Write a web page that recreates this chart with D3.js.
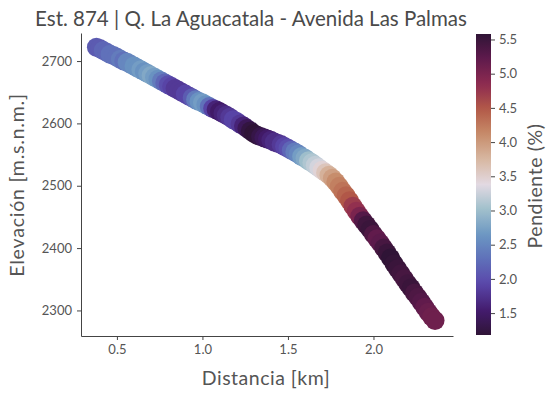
<!DOCTYPE html>
<html>
<head>
<meta charset="utf-8">
<script src="https://cdn.jsdelivr.net/npm/d3@7"></script>
<style>
	body { margin:0; background:#fff; }
	svg text { font-family: Lato, "Open Sans", sans-serif; }
</style>
</head>
<body>
<div id="idChart"></div>
<script>
// distance along the stream [km]
var aDistancia=[0.38,0.40,0.42,0.44,0.46,0.48,0.50,0.52,0.54,0.56,0.58,0.60,0.62,0.64,0.66,0.68,0.70,0.72,0.74,0.76,
	0.78,0.80,0.82,0.84,0.86,0.88,0.90,0.92,0.94,0.96,0.98,1.00,1.02,1.04,1.06,1.08,1.10,1.12,1.14,1.16,
	1.18,1.20,1.22,1.24,1.26,1.28,1.30,1.32,1.34,1.36,1.38,1.40,1.42,1.44,1.46,1.48,1.50,1.52,1.54,1.56,
	1.58,1.60,1.62,1.64,1.66,1.68,1.70,1.72,1.74,1.76,1.78,1.80,1.82,1.84,1.86,1.88,1.90,1.92,1.94,1.96,
	1.98,2.00,2.02,2.04,2.06,2.08,2.10,2.12,2.14,2.16,2.18,2.20,2.22,2.24,2.26,2.28,2.30,2.32,2.34,2.36];
// elevation [m.s.n.m.]
var aElevacion=[2722,2720,2717,2714,2711,2709,2706,2703,2700,2698,2695,2692,2689,2686,2683,2680,2677,2674,2671,2668,
	2665,2662,2659,2656,2653,2650,2647,2644,2641,2638,2635,2633,2630,2627,2624,2622,2619,2616,2613,2610,
	2606,2603,2599,2596,2592,2588,2584,2581,2579,2577,2575,2573,2570,2568,2566,2563,2560,2557,2554,2551,
	2547,2544,2540,2537,2533,2529,2525,2521,2517,2512,2506,2499,2491,2484,2476,2467,2459,2451,2444,2437,
	2430,2422,2415,2408,2400,2392,2384,2375,2367,2359,2351,2343,2336,2328,2321,2313,2305,2297,2290,2284];
// slope [%]
var aPendiente=[2.1,2.1,2.2,2.2,2.3,2.3,2.3,2.4,2.3,2.5,2.5,2.6,2.6,2.7,2.6,2.7,2.8,2.7,2.6,2.4,
	2.2,2.0,1.9,1.8,1.8,1.8,1.9,1.9,2.1,2.4,2.6,2.7,2.6,2.3,1.9,1.6,1.5,1.6,1.7,1.8,
	1.9,1.9,1.8,1.6,1.4,1.25,1.18,1.2,1.3,1.4,1.5,1.6,1.7,1.7,1.8,1.9,2.0,2.2,2.4,2.5,
	2.7,2.8,3.0,3.1,3.2,3.3,3.45,3.6,3.8,3.95,4.1,4.2,4.3,4.4,4.5,4.7,4.8,5.0,5.3,5.45,
	5.5,5.35,5.2,5.25,5.4,5.5,5.58,5.55,5.5,5.45,5.4,5.45,5.5,5.4,5.35,5.3,5.2,5.15,5.1,5.1];

var aTicksX=[0.5,1.0,1.5,2.0];
var aTicksY=[2300,2400,2500,2600,2700];
var aTicksColor=[1.5,2.0,2.5,3.0,3.5,4.0,4.5,5.0,5.5];

// twilight_shifted, sampled by eye
var aCmapPos=[0,0.08,0.17,0.25,0.33,0.42,0.5,0.58,0.67,0.75,0.83,0.92,1];
var aCmapCol=["#2f1436","#431b6c","#5a47aa","#5f6fb9","#6a95c2","#a2c1cc","#e2d9e2","#d8b9a4","#c68a68","#b35a48","#8f2c50","#5e1a4c","#2f1436"];

var iWidth=557, iHeight=399;
var oPlot={left:81, right:453, top:33, bottom:336};

var myCanvas=d3.select("#idChart").append("svg")
	.attr("width",iWidth)
	.attr("height",iHeight);

var xScale=d3.scaleLinear().domain([0.29,2.465]).range([oPlot.left,oPlot.right]);
var yScale=d3.scaleLinear().domain([2259,2745]).range([oPlot.bottom,oPlot.top]);

var aExtent=d3.extent(aPendiente);
var tScale=d3.scaleLinear().domain(aExtent).range([0,1]);
var cmap=d3.scaleLinear().domain(aCmapPos).range(aCmapCol).interpolate(d3.interpolateRgb);
function fColor(v){ return cmap(tScale(v)); }

// points
var aPuntos=aDistancia.map(function(d,i){ return {x:d, y:aElevacion[i], c:aPendiente[i]}; });
myCanvas.append("g").selectAll("circle")
	.data(aPuntos)
	.enter().append("circle")
		.attr("cx",function(d){return xScale(d.x);})
		.attr("cy",function(d){return yScale(d.y);})
		.attr("r",9.5)
		.attr("fill",function(d){return fColor(d.c);});

// axes
var xAxis=myCanvas.append("g")
	.attr("transform","translate(0,"+oPlot.bottom+")")
	.call(d3.axisBottom(xScale).tickValues(aTicksX).tickFormat(d3.format(".1f")).tickSize(4).tickPadding(5).tickSizeOuter(0));
var yAxis=myCanvas.append("g")
	.attr("transform","translate("+oPlot.left+",0)")
	.call(d3.axisLeft(yScale).tickValues(aTicksY).tickFormat(d3.format("d")).tickSize(4).tickPadding(5).tickSizeOuter(0));

[xAxis,yAxis].forEach(function(a){
	a.select(".domain").attr("stroke","#444").attr("stroke-width",1);
	a.selectAll(".tick line").attr("stroke","#444");
	a.selectAll(".tick text").attr("fill","#555").style("font-size","13px");
});

// titles
myCanvas.append("text")
	.attr("x",251).attr("y",26)
	.attr("text-anchor","middle")
	.attr("fill","#4a4a4a")
	.style("font-size","20.5px")
	.text("Est. 874 | Q. La Aguacatala - Avenida Las Palmas");

myCanvas.append("text")
	.attr("x",266).attr("y",385)
	.attr("text-anchor","middle")
	.attr("fill","#555")
	.style("font-size","19.5px")
	.style("letter-spacing","0.5px")
	.text("Distancia [km]");

myCanvas.append("text")
	.attr("transform","translate(24,185) rotate(-90)")
	.attr("text-anchor","middle")
	.attr("fill","#555")
	.style("font-size","19.5px")
	.style("letter-spacing","0.8px")
	.text("Elevación [m.s.n.m.]");

// colorbar
var oBar={x:476, w:15, top:34, bottom:335};
var cScale=d3.scaleLinear().domain(aExtent).range([oBar.bottom,oBar.top]);

var myGrad=myCanvas.append("defs").append("linearGradient")
	.attr("id","idGrad")
	.attr("x1",0).attr("y1",1).attr("x2",0).attr("y2",0);
myGrad.selectAll("stop")
	.data(d3.range(0,1.0001,0.02))
	.enter().append("stop")
		.attr("offset",function(d){return d;})
		.attr("stop-color",function(d){return cmap(d);});

myCanvas.append("rect")
	.attr("x",oBar.x).attr("y",oBar.top)
	.attr("width",oBar.w).attr("height",oBar.bottom-oBar.top)
	.attr("fill","url(#idGrad)");

var cAxis=myCanvas.append("g")
	.attr("transform","translate("+(oBar.x+oBar.w)+",0)")
	.call(d3.axisRight(cScale).tickValues(aTicksColor).tickFormat(d3.format(".1f")).tickSize(4).tickPadding(4));
cAxis.select(".domain").remove();
cAxis.selectAll(".tick line").attr("stroke","#444");
cAxis.selectAll(".tick text").attr("fill","#555").style("font-size","13px");

myCanvas.append("text")
	.attr("transform","translate(542,186) rotate(-90)")
	.attr("text-anchor","middle")
	.attr("fill","#555")
	.style("font-size","19.5px")
	.style("letter-spacing","0.6px")
	.text("Pendiente (%)");
</script>
</body>
</html>
